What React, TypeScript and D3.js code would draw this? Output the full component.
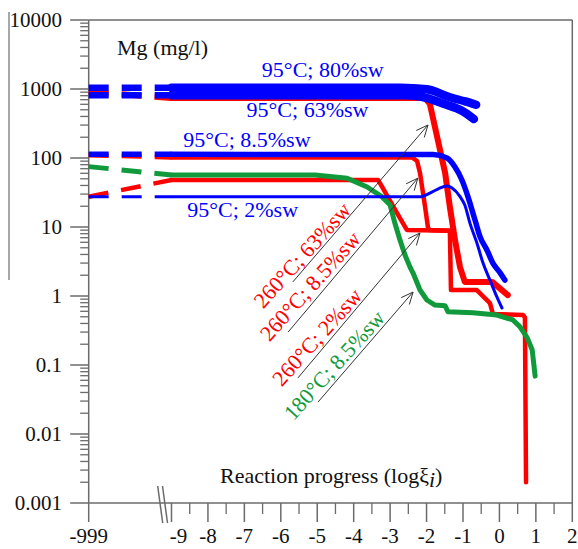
import React from 'react';
import * as d3 from 'd3';

const W = 578;
const H = 549;

// ---- axis ticks ----
const yMajor = [0.001, 0.01, 0.1, 1, 10, 100, 1000, 10000];
const yMajorLabels = ['0.001', '0.01', '0.1', '1', '10', '100', '1000', '10000'];
const xMajor = [-999, -9, -8, -7, -6, -5, -4, -3, -2, -1, 0, 1, 2];
const xMajorLabels = ['-999', '-9', '-8', '-7', '-6', '-5', '-4', '-3', '-2', '-1', '0', '1', '2'];
const xMinor = [-8.5, -7.5, -6.5, -5.5, -4.5, -3.5, -2.5, -1.5, -0.5, 0.5, 1.5];

// ---- series (x = log xi, y = Mg mg/l); start value is at xi = 0 (plotted at -999) ----
const red63Start = 914;
const red63X = [-9, -2.04, -1.91, -1.69, -1.49, -1.36, -1.22, -1.08, -0.95, -0.2, 0.23];
const red63Y = [740, 740, 607, 182, 60.6, 19.5, 6.5, 2.6, 1.6, 1.6, 1.03];

const red85Start = 110;
const red85X = [-9, -2.4, -2.26, -2.18, -2.04, -1.96, -1.91, -1.36];
const red85Y = [102, 102, 90.5, 60.6, 19.5, 9.7, 9.05, 8.8];

const red2Start = 27.5;
const red2X = [-9, -3.33, -3.06, -2.73, -2.54, -1.36, -1.33, -0.62, -0.26, -0.18, 0.65, 0.7, 0.73];
const red2Y = [48, 48, 27.2, 13.5, 9.05, 8.8, 1.22, 1.22, 0.79, 0.55, 0.53, 0.49, 0.002];

const green85Start = 75;
const green85X = [-9, -5.06, -4.18, -3.63, -3.25, -3.0, -2.87, -2.73, -2.59, -2.45, -2.37, -2.18, -1.99, -1.77, -1.49, -1.41, -0.73, -0.07, 0.37, 0.56, 0.76, 0.9, 0.98];
const green85Y = [56.7, 56.7, 51, 38, 28.1, 20.8, 11.4, 6.5, 3.9, 2.6, 2.15, 1.22, 0.875, 0.74, 0.72, 0.59, 0.57, 0.53, 0.45, 0.36, 0.25, 0.165, 0.069];

const blue2Start = 27.5;
const blue2X = [-9, -2.15, -1.91, -1.69, -1.44, -1.3, -1.08, -0.95, -0.81, -0.62, -0.45, -0.26, -0.07, 0.07];
const blue2Y = [27.5, 27.5, 31, 35.5, 39.3, 36.8, 27.5, 20.8, 11.4, 5.9, 3.0, 1.7, 0.97, 0.67];

const blue85Start = 113;
const blue85X = [-9, -1.82, -1.44, -1.22, -1.03, -0.86, -0.67, -0.53, -0.34, -0.18, 0.01, 0.15];
const blue85Y = [113, 112, 100, 74, 48, 27.2, 12.6, 7.2, 4.6, 3.0, 2.2, 1.7];

const blue63Start = 812;
const blue63X = [-9, -2.6, -2.18, -1.49, -1.03, -0.7];
const blue63Y = [812, 810, 780, 600, 485, 367];

const blue80Start = 1045;
const blue80X = [-9, -2.73, -1.99, -1.36, -0.94, -0.64];
const blue80Y = [1045, 1045, 990, 760, 660, 590];

// ---- labels ----
const blueLabels = ['95°C; 80%sw', '95°C; 63%sw', '95°C; 8.5%sw', '95°C; 2%sw'];
const blueLabelX = [-6.52, -6.94, -8.68, -8.57];
const blueLabelY = [1507, 397, 146, 13.96];

const arrowLabels = ['260°C; 63%sw', '260°C; 8.5%sw', '260°C; 2%sw', '180°C; 8.5%sw'];
const arrowLabelX = [-5.42, -5.2, -5.01, -4.54];
const arrowLabelY = [3.93, 1.4, 0.255, 0.1];
const arrowTailX = [-5.67, -5.8, -5.53, -4.98];
const arrowTailY = [1.6, 0.3, 0.065, 0.029];
const arrowTipX = [-1.96, -2.24, -2.18, -2.37];
const arrowTipY = [301, 51, 8.2, 1.14];

const RED = '#ff0000';
const BLUE = '#0000ff';
const GREEN = '#119a3c';
const AXIS = '#6b6b6b';
const FONT = "'Liberation Serif', 'Times New Roman', serif";

export default function App() {
  const x = d3.scaleLinear().domain([-999, -9, 2]).range([88.7, 171.5, 572.3]);
  const y = d3.scaleLog().domain([0.001, 10000]).range([503, 20]);
  const left = x(-999);
  const right = x(2);
  const top = y(10000);
  const bottom = y(0.001);

  const zip = (xs: number[], ys: number[]) => xs.map((v, i) => [v, ys[i]] as [number, number]);
  const linLine = d3.line<[number, number]>().x(d => x(d[0])).y(d => y(d[1])).curve(d3.curveLinear);
  const smoothLine = d3.line<[number, number]>().x(d => x(d[0])).y(d => y(d[1])).curve(d3.curveMonotoneX);

  const series = [
    { start: red63Start, xs: red63X, ys: red63Y, color: RED, w: 6, dw: 6, smooth: false },
    { start: red85Start, xs: red85X, ys: red85Y, color: RED, w: 4.5, dw: 4.5, smooth: false },
    { start: red2Start, xs: red2X, ys: red2Y, color: RED, w: 4.5, dw: 4.5, smooth: false },
    { start: green85Start, xs: green85X, ys: green85Y, color: GREEN, w: 5, dw: 5, smooth: false },
    { start: blue2Start, xs: blue2X, ys: blue2Y, color: BLUE, w: 3, dw: 3, smooth: true },
    { start: blue85Start, xs: blue85X, ys: blue85Y, color: BLUE, w: 5.5, dw: 5.5, smooth: true },
    { start: blue63Start, xs: blue63X, ys: blue63Y, color: BLUE, w: 8.5, dw: 6.5, smooth: true },
    { start: blue80Start, xs: blue80X, ys: blue80Y, color: BLUE, w: 8.5, dw: 6.5, smooth: true },
  ];

  const yMinor: number[] = [];
  for (let d = -3; d <= 3; d++) for (let k = 2; k <= 9; k++) yMinor.push(k * Math.pow(10, d));

  const arrows = arrowTipX.map((_, i) => {
    const x1 = x(arrowTailX[i]), y1 = y(arrowTailY[i]);
    const x2 = x(arrowTipX[i]), y2 = y(arrowTipY[i]);
    const a = Math.atan2(y2 - y1, x2 - x1);
    const L = 13, s = 0.42;
    const h1 = [x2 - L * Math.cos(a - s), y2 - L * Math.sin(a - s)];
    const h2 = [x2 - L * Math.cos(a + s), y2 - L * Math.sin(a + s)];
    return { x1, y1, x2, y2, h1, h2 };
  });
  const arrowColors = [RED, RED, RED, GREEN];

  return (
    <svg width={W} height={H} style={{ position: 'absolute', left: 0, top: 0, background: '#fff' }} fontFamily={FONT}>
      <rect x={0} y={0} width={W} height={H} fill="#fff" />
      {/* stray left bar */}
      <line x1={9} y1={12} x2={9} y2={280} stroke="#8a8a8a" strokeWidth={1.5} />
      {/* frame */}
      <line x1={left} y1={top} x2={right} y2={top} stroke={AXIS} strokeWidth={1.5} />
      <line x1={right} y1={top} x2={right} y2={bottom} stroke={AXIS} strokeWidth={1.5} />
      <line x1={left} y1={top} x2={left} y2={bottom} stroke={AXIS} strokeWidth={1.5} />
      <line x1={left} y1={bottom} x2={right} y2={bottom} stroke={AXIS} strokeWidth={1.5} />
      {/* y ticks */}
      {yMinor.map(v => (
        <line key={'ym' + v} x1={left - 8.5} x2={left} y1={y(v)} y2={y(v)} stroke={AXIS} strokeWidth={1.3} />
      ))}
      {yMajor.map((v, i) => (
        <g key={'yM' + v}>
          <line x1={left - 18.5} x2={left} y1={y(v)} y2={y(v)} stroke={AXIS} strokeWidth={1.5} />
          <text x={62} y={y(v)} dy="0.35em" textAnchor="end" fontSize={21} fill="#111">{yMajorLabels[i]}</text>
        </g>
      ))}
      {/* x ticks */}
      {xMinor.map(v => (
        <line key={'xm' + v} x1={x(v)} x2={x(v)} y1={bottom} y2={bottom + 11} stroke={AXIS} strokeWidth={1.3} />
      ))}
      {xMajor.map((v, i) => (
        <g key={'xM' + v}>
          <line x1={x(v)} x2={x(v)} y1={bottom} y2={bottom + 19} stroke={AXIS} strokeWidth={1.5} />
          <text x={x(v) + (v === -9 ? 7 : 0)} y={543} textAnchor="middle" fontSize={21} fill="#111">{xMajorLabels[i]}</text>
        </g>
      ))}
      {/* axis break */}
      <line x1={157.7} y1={486} x2={162.7} y2={523} stroke={AXIS} strokeWidth={1.5} />
      <line x1={162.5} y1={486} x2={167.5} y2={523} stroke={AXIS} strokeWidth={1.5} />

      {/* series */}
      {series.map((s, i) => (
        <g key={'s' + i}>
          <path
            d={linLine([[-999, s.start], [s.xs[0], s.ys[0]]]) || ''}
            fill="none" stroke={s.color} strokeWidth={s.dw} strokeDasharray="20 13"
          />
          <path
            d={(s.smooth ? smoothLine : linLine)(zip(s.xs, s.ys)) || ''}
            fill="none" stroke={s.color} strokeWidth={s.w} strokeLinejoin="round" strokeLinecap="round"
          />
        </g>
      ))}

      {/* arrows */}
      {arrows.map((a, i) => (
        <g key={'a' + i} stroke="#333" strokeWidth={1} fill="none">
          <line x1={a.x1} y1={a.y1} x2={a.x2} y2={a.y2} />
          <polyline points={`${a.h1[0]},${a.h1[1]} ${a.x2},${a.y2} ${a.h2[0]},${a.h2[1]}`} />
        </g>
      ))}
      {arrowLabels.map((t, i) => (
        <text key={'al' + i}
          transform={`translate(${x(arrowLabelX[i])},${y(arrowLabelY[i])}) rotate(-48)`}
          textAnchor="middle" dy="0.35em" fontSize={22} fill={arrowColors[i]}>{t}</text>
      ))}

      {/* blue labels */}
      {blueLabels.map((t, i) => (
        <text key={'bl' + i} x={x(blueLabelX[i])} y={y(blueLabelY[i])} fontSize={22} fill={BLUE}>{t}</text>
      ))}

      {/* titles */}
      <text x={117} y={55} fontSize={22} fill="#111">Mg (mg/l)</text>
      <text x={220} y={483} fontSize={22} fill="#111">
        Reaction progress (logξ<tspan fontStyle="italic" dy={4}>i</tspan><tspan dy={-4}>)</tspan>
      </text>
    </svg>
  );
}
